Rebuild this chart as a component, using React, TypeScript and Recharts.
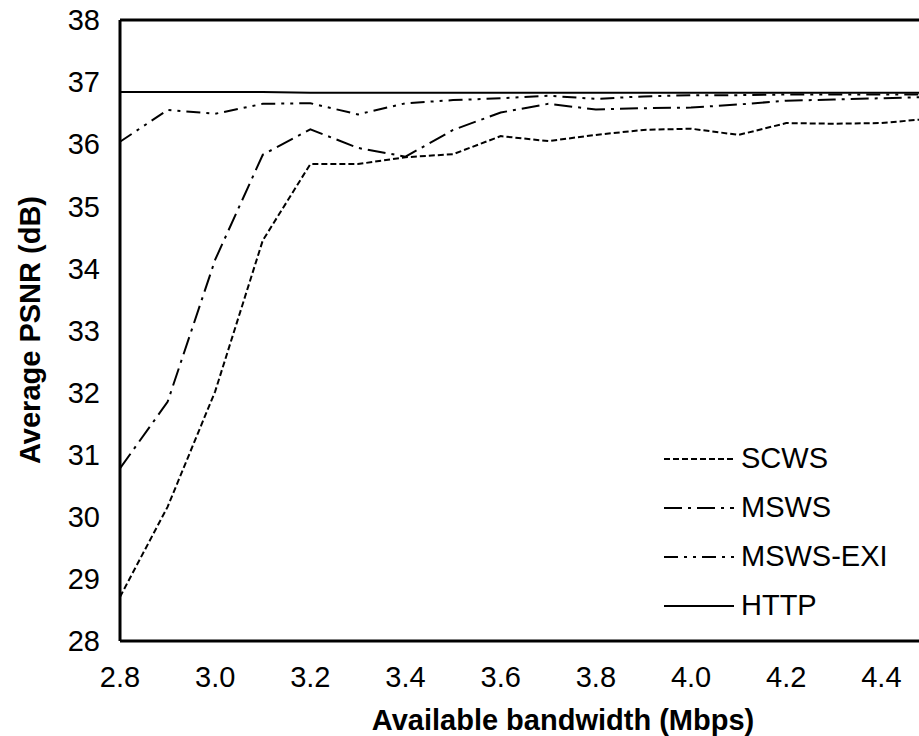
import { LineChart, Line, XAxis, YAxis, Legend, ReferenceLine } from 'recharts';

const bandwidth = [2.8, 2.9, 3.0, 3.1, 3.2, 3.3, 3.4, 3.5, 3.6, 3.7, 3.8, 3.9, 4.0, 4.1, 4.2, 4.3, 4.4, 4.5];
const scws = [28.71, 30.16, 32.02, 34.45, 35.68, 35.68, 35.79, 35.84, 36.13, 36.05, 36.15, 36.23, 36.25, 36.15, 36.34, 36.33, 36.34, 36.41];
const msws = [30.78, 31.85, 34.14, 35.83, 36.24, 35.94, 35.8, 36.23, 36.51, 36.65, 36.56, 36.58, 36.59, 36.64, 36.7, 36.72, 36.74, 36.76];
const mswsExi = [36.04, 36.55, 36.49, 36.65, 36.66, 36.48, 36.66, 36.71, 36.74, 36.78, 36.73, 36.77, 36.79, 36.79, 36.8, 36.8, 36.8, 36.8];
const http = [36.84, 36.84, 36.84, 36.84, 36.83, 36.83, 36.83, 36.83, 36.83, 36.83, 36.83, 36.83, 36.83, 36.83, 36.83, 36.83, 36.83, 36.83];

const xTicks = [2.8, 3.0, 3.2, 3.4, 3.6, 3.8, 4.0, 4.2, 4.4];
const yTicks = [28, 29, 30, 31, 32, 33, 34, 35, 36, 37, 38];

const series = [
  { key: 'scws', name: 'SCWS', dash: '6 3' },
  { key: 'msws', name: 'MSWS', dash: '18 6 3 6' },
  { key: 'mswsExi', name: 'MSWS-EXI', dash: '14 6 3 6 3 6' },
  { key: 'http', name: 'HTTP', dash: undefined },
];

const data = bandwidth.map((x, i) => ({
  x,
  scws: scws[i],
  msws: msws[i],
  mswsExi: mswsExi[i],
  http: http[i],
}));

const font = '"Liberation Sans", Arial, sans-serif';

const renderLegend = () => (
  <div style={{ fontFamily: font, fontSize: 29, color: '#000' }}>
    {series.map((s) => (
      <div key={s.key} style={{ display: 'flex', alignItems: 'center', height: 49 }}>
        <svg width={72} height={10} style={{ marginRight: 5 }}>
          <line x1={0} y1={5} x2={70} y2={5} stroke="#000" strokeWidth={2} strokeDasharray={s.dash} />
        </svg>
        <span>{s.name}</span>
      </div>
    ))}
  </div>
);

const YTitle = () => (
  <text
    x={30}
    y={330}
    transform="rotate(-90 30 330)"
    textAnchor="middle"
    dominantBaseline="central"
    fontFamily={font}
    fontSize={29}
    fontWeight="bold"
    fill="#000"
  >
    Average PSNR (dB)
  </text>
);

const XTitle = () => (
  <text x={563} y={720} textAnchor="middle" dominantBaseline="central" fontFamily={font} fontSize={29} fontWeight="bold" fill="#000">
    Available bandwidth (Mbps)
  </text>
);

export default function App() {
  return (
    <div style={{ position: 'fixed', left: 0, top: 0, width: 919, height: 736, overflow: 'hidden', background: '#fff' }}>
      <LineChart width={945} height={736} data={data} margin={{ top: 20, right: 16, left: 0, bottom: 0 }}>
        <XAxis
          dataKey="x"
          type="number"
          domain={[2.8, 4.5]}
          ticks={xTicks}
          tickFormatter={(v) => v.toFixed(1)}
          height={95}
          tickLine={false}
          tickSize={0}
          tickMargin={25}
          axisLine={{ stroke: '#000', strokeWidth: 3 }}
          tick={{ fill: '#000', fontSize: 29, fontFamily: font }}
          label={<XTitle />}
        />
        <YAxis
          type="number"
          domain={[28, 38]}
          ticks={yTicks}
          width={120}
          tickLine={false}
          tickSize={0}
          tickMargin={20}
          axisLine={{ stroke: '#000', strokeWidth: 3 }}
          tick={{ fill: '#000', fontSize: 29, fontFamily: font }}
          label={<YTitle />}
        />
        <ReferenceLine y={38} stroke="#000" strokeWidth={3} />
        <Legend
          content={renderLegend}
          layout="vertical"
          align="center"
          verticalAlign="middle"
          wrapperStyle={{ position: 'absolute', left: 664, top: 434, width: 250 }}
        />
        {series.map((s) => (
          <Line
            key={s.key}
            dataKey={s.key}
            name={s.name}
            stroke="#000"
            strokeWidth={2}
            strokeDasharray={s.dash}
            dot={false}
            activeDot={false}
            type="linear"
            isAnimationActive={false}
          />
        ))}
      </LineChart>
    </div>
  );
}
